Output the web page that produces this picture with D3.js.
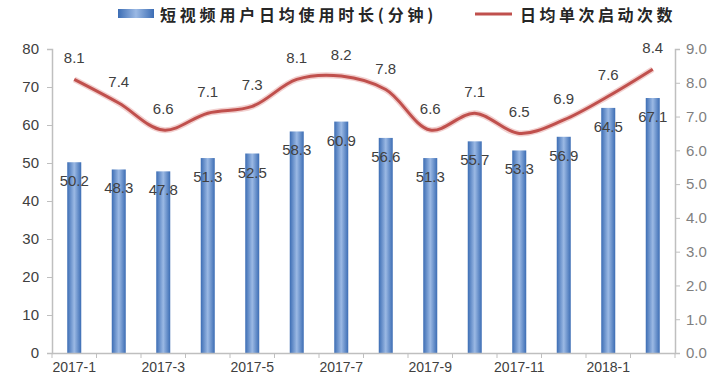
<!DOCTYPE html>
<html>
<head>
<meta charset="utf-8">
<script src="https://cdn.jsdelivr.net/npm/d3@7"></script>
<style>
  body { margin: 0; background: #fff; }
  svg { display: block; font-family: "Liberation Sans", "DejaVu Sans", sans-serif; }
</style>
</head>
<body>
<div id="chart"></div>
<script>
// 데이터
const months = ["2017-1","2017-2","2017-3","2017-4","2017-5","2017-6","2017-7","2017-8","2017-9","2017-10","2017-11","2017-12","2018-1","2018-2"];
const minutes = [50.2, 48.3, 47.8, 51.3, 52.5, 58.3, 60.9, 56.6, 51.3, 55.7, 53.3, 56.9, 64.5, 67.1];
const launches = [8.1, 7.4, 6.6, 7.1, 7.3, 8.1, 8.2, 7.8, 6.6, 7.1, 6.5, 6.9, 7.6, 8.4];
const leftTicks = [0, 10, 20, 30, 40, 50, 60, 70, 80];
const rightTicks = [0, 1, 2, 3, 4, 5, 6, 7, 8, 9];
const barName = "短视频用户日均使用时长(分钟)";
const lineName = "日均单次启动次数";

const W = 720, H = 385;
const margin = { top: 49, right: 45, bottom: 32, left: 52 };
const width = W - margin.left - margin.right;
const height = H - margin.top - margin.bottom;

const svg = d3.select("#chart").append("svg")
    .attr("width", W)
    .attr("height", H);

// 막대 그라데이션
const defs = svg.append("defs");
const grad = defs.append("linearGradient").attr("id", "barGrad")
    .attr("x1", "0%").attr("x2", "100%").attr("y1", "0%").attr("y2", "0%");
grad.append("stop").attr("offset", "0%").attr("stop-color", "#3c6db4");
grad.append("stop").attr("offset", "50%").attr("stop-color", "#9bb9e4");
grad.append("stop").attr("offset", "100%").attr("stop-color", "#3c6db4");

const g = svg.append("g").attr("transform", `translate(${margin.left},${margin.top})`);

const x = d3.scaleBand().domain(months).range([0, width]).padding(0);
const yL = d3.scaleLinear().domain([0, 80]).range([height, 0]);
const yR = d3.scaleLinear().domain([0, 9]).range([height, 0]);

// 왼쪽 축
const axL = g.append("g")
    .call(d3.axisLeft(yL).tickValues(leftTicks).tickSize(5).tickPadding(8));
axL.select(".domain").attr("stroke", "#bfbfbf").attr("stroke-width", 1.5);
axL.selectAll(".tick line").attr("stroke", "#bfbfbf");
axL.selectAll("text").attr("font-size", 15).attr("fill", "#404040");

// 오른쪽 축
const axR = g.append("g")
    .attr("transform", `translate(${width},0)`)
    .call(d3.axisRight(yR).tickValues(rightTicks).tickFormat(d3.format(".1f")).tickSize(5).tickPadding(6));
axR.select(".domain").attr("stroke", "#bfbfbf").attr("stroke-width", 1.5);
axR.selectAll(".tick line").attr("stroke", "#bfbfbf");
axR.selectAll("text").attr("font-size", 15).attr("fill", "#7f7f7f");

// 막대
const barW = 14;
g.selectAll(".bar")
    .data(minutes)
    .enter().append("rect")
    .attr("class", "bar")
    .attr("x", (d, i) => x(months[i]) + x.bandwidth() / 2 - barW / 2)
    .attr("width", barW)
    .attr("y", d => yL(d))
    .attr("height", d => height - yL(d))
    .attr("fill", "url(#barGrad)");

// 아래 축
const axB = g.append("g")
    .attr("transform", `translate(0,${height})`)
    .call(d3.axisBottom(x).tickSize(0).tickFormat((d, i) => i % 2 === 0 ? d : ""));
axB.select(".domain").attr("stroke", "#bfbfbf").attr("stroke-width", 1.5);
axB.selectAll("text").attr("font-size", 14).attr("fill", "#404040").attr("dy", "1.15em");
// 구간 경계 눈금
axB.selectAll(".sep")
    .data(d3.range(months.length + 1))
    .enter().append("line")
    .attr("class", "sep")
    .attr("x1", i => i * x.step())
    .attr("x2", i => i * x.step())
    .attr("y1", 0).attr("y2", 5)
    .attr("stroke", "#bfbfbf");

// 막대 라벨
g.selectAll(".bar-label")
    .data(minutes)
    .enter().append("text")
    .attr("class", "bar-label")
    .attr("x", (d, i) => x(months[i]) + x.bandwidth() / 2)
    .attr("y", d => yL(d) + 24)
    .attr("text-anchor", "middle")
    .attr("font-size", 15)
    .attr("fill", "#404040")
    .text(d => d.toFixed(1));

// 선
const line = d3.line()
    .x((d, i) => x(months[i]) + x.bandwidth() / 2)
    .y(d => yR(d))
    .curve(d3.curveCatmullRom.alpha(0.5));

g.append("path")
    .datum(launches)
    .attr("fill", "none")
    .attr("stroke", "#f2d0cf")
    .attr("stroke-width", 6)
    .attr("d", line);
g.append("path")
    .datum(launches)
    .attr("fill", "none")
    .attr("stroke", "#c0504d")
    .attr("stroke-width", 3)
    .attr("d", line);

// 선 라벨
g.selectAll(".line-label")
    .data(launches)
    .enter().append("text")
    .attr("class", "line-label")
    .attr("x", (d, i) => x(months[i]) + x.bandwidth() / 2)
    .attr("y", d => yR(d) - 16)
    .attr("text-anchor", "middle")
    .attr("font-size", 15)
    .attr("fill", "#404040")
    .text(d => d.toFixed(1));

// 범례
const legend = svg.append("g").attr("font-family", "'Noto Sans CJK SC', sans-serif");
legend.append("rect")
    .attr("x", 118).attr("y", 9).attr("width", 36).attr("height", 9)
    .attr("fill", "url(#barGrad)");
legend.append("text")
    .attr("x", 160).attr("y", 21)
    .attr("font-size", 16).attr("font-weight", "bold").attr("fill", "#262626")
    .attr("letter-spacing", 3.8)
    .text(barName);
legend.append("line")
    .attr("x1", 475).attr("x2", 512).attr("y1", 14).attr("y2", 14)
    .attr("stroke", "#c0504d").attr("stroke-width", 3);
legend.append("text")
    .attr("x", 520).attr("y", 21)
    .attr("font-size", 16).attr("font-weight", "bold").attr("fill", "#262626")
    .attr("letter-spacing", 3.5)
    .text(lineName);
</script>
</body>
</html>
